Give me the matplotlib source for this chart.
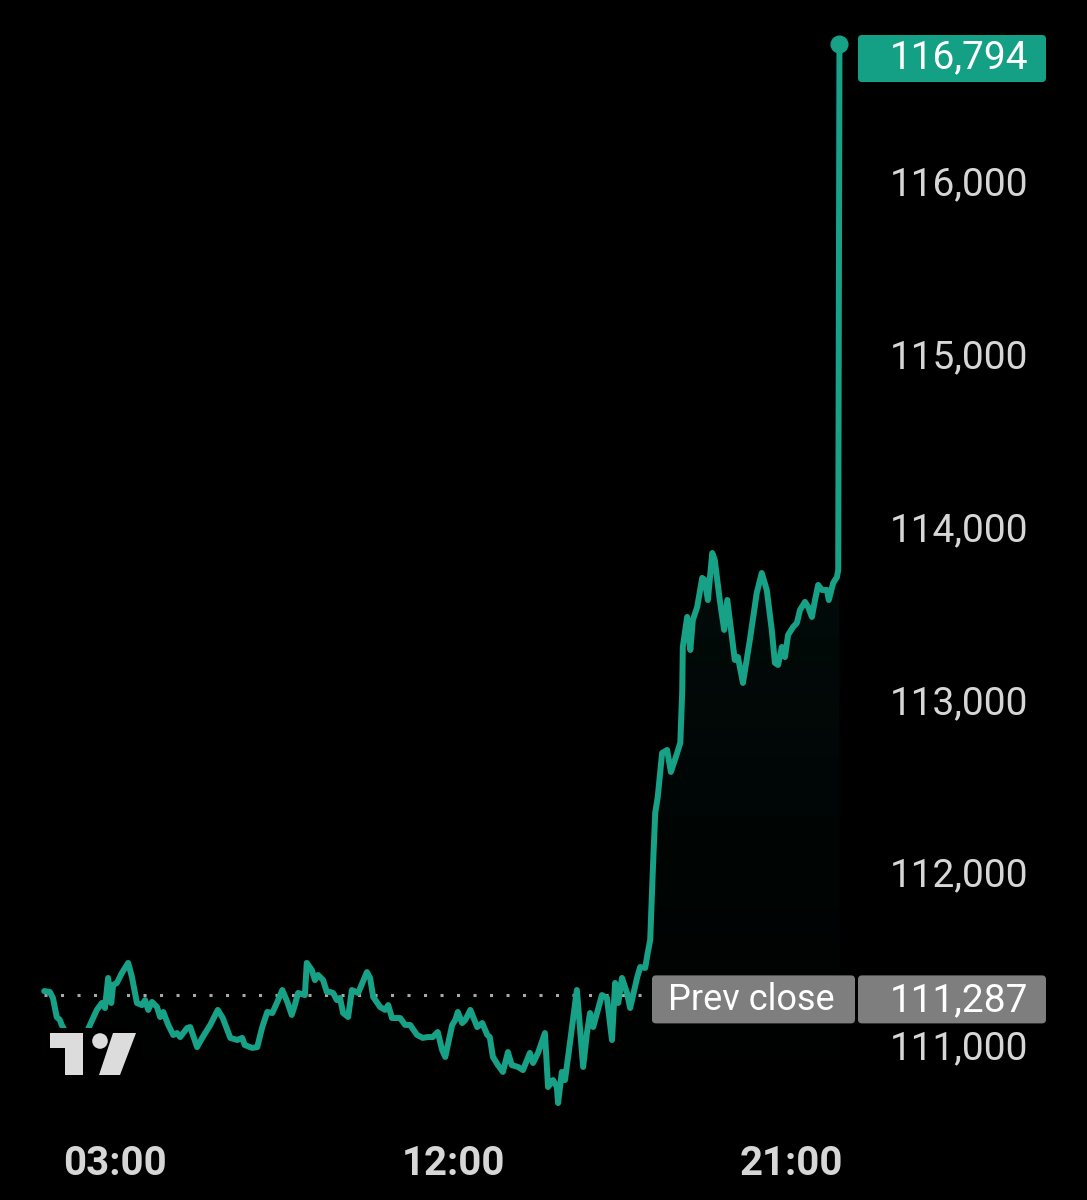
import matplotlib
matplotlib.use('Agg')
import matplotlib.pyplot as plt
import numpy as np
from matplotlib.patches import FancyBboxPatch, Polygon, Circle, Rectangle

# ---------------- data ----------------
minutes = [67, 76, 81, 87, 92, 95, 108, 121, 132, 140, 151, 159, 164, 169, 174, 177, 183, 191, 201, 207,
           215, 223, 228, 233, 239, 247, 252, 257, 265, 273, 279, 284, 295, 300, 311, 320, 332, 344, 352, 364,
           375, 383, 387, 399, 407, 415, 423, 431, 439, 447, 455, 462, 467, 472, 483, 486, 494, 499, 504, 512,
           518, 523, 528, 534, 539, 544, 552, 558, 568, 582, 587, 592, 603, 611, 616, 622, 635, 643, 651, 662,
           671, 679, 687, 695, 702, 707, 718, 723, 727, 734, 739, 747, 758, 766, 774, 778, 783, 791, 799, 807,
           813, 823, 831, 842, 847, 855, 866, 871, 879, 885, 887, 893, 898, 903, 917, 927, 933, 938, 943, 957,
           965, 973, 978, 983, 989, 997, 1002, 1013, 1018, 1026, 1030, 1034, 1038, 1042, 1046, 1053, 1061, 1067, 1077, 1082,
           1085, 1086, 1093, 1098, 1102, 1109, 1117, 1121, 1126, 1133, 1137, 1145, 1152, 1157, 1165, 1169, 1174, 1182, 1193, 1204,
           1212, 1220, 1228, 1233, 1238, 1244, 1249, 1254, 1262, 1268, 1273, 1281, 1286, 1292, 1297, 1302, 1308, 1316, 1319, 1326,
           1332, 1334, 1336]
prices = [111312, 111307, 111272, 111162, 111145, 111116, 111029, 110994, 111052, 111116, 111203, 111243, 111214, 111388, 111243, 111347, 111359, 111417, 111475, 111394,
          111243, 111231, 111260, 111203, 111249, 111220, 111162, 111191, 111116, 111058, 111069, 111046, 111098, 111104, 110988, 111046, 111116, 111203, 111156, 111041,
          111029, 111041, 111000, 110983, 110988, 111104, 111191, 111185, 111249, 111318, 111249, 111174, 111231, 111301, 111289, 111475, 111434, 111376, 111405, 111376,
          111307, 111307, 111301, 111260, 111272, 111185, 111162, 111318, 111301, 111422, 111388, 111278, 111220, 111203, 111231, 111156, 111156, 111116, 111116, 111058,
          111041, 111046, 111046, 111075, 110971, 110931, 111116, 111145, 111191, 111127, 111145, 111203, 111104, 111127, 111058, 111046, 110931, 110884, 110844, 110959,
          110884, 110873, 110855, 110954, 110896, 110954, 111069, 110757, 110797, 110757, 110664, 110844, 110797, 110931, 111318, 110873, 111069, 111185, 111104, 111289,
          111272, 111029, 111359, 111243, 111388, 111301, 111214, 111388, 111451, 111446, 111532, 111608, 111995, 112343, 112435, 112690, 112707, 112580, 112690, 112748,
          113037, 113303, 113477, 113286, 113459, 113535, 113703, 113691, 113575, 113847, 113807, 113575, 113402, 113575, 113344, 113228, 113245, 113095, 113344, 113616,
          113731, 113633, 113402, 113211, 113199, 113303, 113245, 113373, 113419, 113442, 113517, 113564, 113535, 113477, 113575, 113662, 113633, 113633, 113575, 113674,
          113708, 113749, 116794]
prev_close = 111287
last_label = "116,794"
prev_label = "Prev close"
prev_value_label = "111,287"
y_ticks = [111000, 112000, 113000, 114000, 115000, 116000]
x_ticks = [180, 720, 1260]
x_tick_labels = ["03:00", "12:00", "21:00"]

# ---------------- style ----------------
W, H = 1087, 1200
TEAL = '#17a288'
BOX_TEAL = '#14a085'
GRAY_BOX = '#7e7e7e'
TXT = '#d6d6d6'
FONT = 'Roboto'

fig = plt.figure(figsize=(W / 100, H / 100), dpi=100, facecolor='black')
ax = fig.add_axes([0, 80 / H, 850 / W, 1120 / H])
ax.set_facecolor('black')
x0, x1 = -3.5, 1352.8
y0, y1 = 110566, 117047

# gradient fill under line
verts = [(minutes[0], y0)] + list(zip(minutes, prices)) + [(minutes[-1], y0)]
poly = Polygon(verts, closed=True, facecolor='none', edgecolor='none')
ax.add_patch(poly)
n = 256
rgba = np.zeros((n, 1, 4))
rgba[..., 0:3] = matplotlib.colors.to_rgb(TEAL)
rgba[:, 0, 3] = np.linspace(0.0, 0.14, n)
im = ax.imshow(rgba, extent=[minutes[0], minutes[-1], y0, max(prices)],
               origin='lower', aspect='auto', zorder=1, interpolation='bilinear')
im.set_clip_path(poly)

# prev close dotted line
ax.plot([minutes[0], x1], [prev_close, prev_close], color='#a8a8a8', lw=2.2,
        dashes=(1, 4.4), zorder=2)

# main line
ax.plot(minutes, prices, color=TEAL, lw=4.3, solid_joinstyle='round',
        solid_capstyle='round', zorder=3)
ax.plot(minutes[-1], prices[-1], 'o', ms=12, color=TEAL, zorder=4)

ax.set_xlim(x0, x1)
ax.set_ylim(y0, y1)
for s in ax.spines.values():
    s.set_visible(False)

ax.yaxis.tick_right()
ax.set_yticks(y_ticks)
ax.set_yticklabels([f"{v:,}" for v in y_ticks])
ax.tick_params(axis='y', length=0, pad=178 * 0.72, labelsize=28, labelcolor=TXT)
for lab in ax.get_yticklabels():
    lab.set_ha('right')
    lab.set_fontfamily(FONT)

ax.set_xticks(x_ticks)
ax.set_xticklabels(x_tick_labels)
ax.tick_params(axis='x', length=0, pad=18, labelsize=29, labelcolor=TXT)
for lab in ax.get_xticklabels():
    lab.set_fontfamily(FONT)
    lab.set_fontweight('bold')

# ---------------- overlay (labels, logo) ----------------
fig.canvas.draw()
ov = fig.add_axes([0, 0, 1, 1], zorder=5)
ov.set_xlim(0, W)
ov.set_ylim(H, 0)
ov.axis('off')
ov.patch.set_visible(False)

# last price box
ov.add_patch(FancyBboxPatch((858, 35), 188, 47, boxstyle="round,pad=0,rounding_size=4",
                            facecolor=BOX_TEAL, edgecolor='none'))
ov.text(1028, 58, last_label, color='white', fontsize=28, family=FONT,
        ha='right', va='center')

# prev close boxes
pc_y = H - ax.transData.transform((0, prev_close))[1] + 4
ov.add_patch(FancyBboxPatch((652, pc_y - 24), 203, 48, boxstyle="round,pad=0,rounding_size=4",
                            facecolor=GRAY_BOX, edgecolor='none'))
ov.add_patch(FancyBboxPatch((858, pc_y - 24), 188, 48, boxstyle="round,pad=0,rounding_size=4",
                            facecolor=GRAY_BOX, edgecolor='none'))
ov.text(668, pc_y + 1, prev_label, color='white', fontsize=26, family=FONT,
        ha='left', va='center')
ov.text(1028, pc_y + 1, prev_value_label, color='white', fontsize=28, family=FONT,
        ha='right', va='center')

# TradingView logo with black backdrop
ov.add_patch(Rectangle((46, 1028), 96, 56, facecolor='black', edgecolor='none'))
LOGO = '#dcdcdc'
ov.add_patch(Polygon([(50, 1033), (83, 1033), (83, 1075), (65, 1075), (65, 1048), (50, 1048)],
                     closed=True, facecolor=LOGO, edgecolor='none'))
ov.add_patch(Circle((100, 1041), 7.8, facecolor=LOGO, edgecolor='none'))
ov.add_patch(Polygon([(113, 1033), (136, 1033), (120, 1075), (99, 1075)],
                     closed=True, facecolor=LOGO, edgecolor='none'))

fig.savefig('out.png', dpi=100, facecolor='black')
